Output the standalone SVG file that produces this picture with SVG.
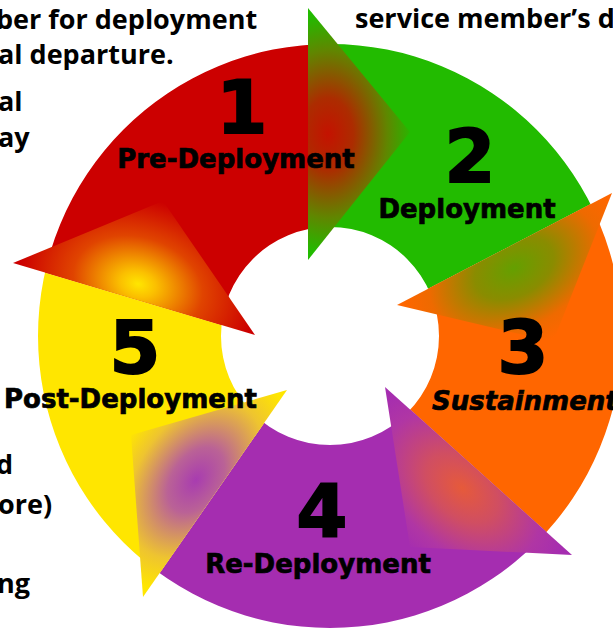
<svg xmlns="http://www.w3.org/2000/svg" width="613" height="629" viewBox="0 0 613 629">
<style>
.num{font-family:"DejaVu Sans",Verdana,sans-serif;font-weight:bold;font-size:73px;fill:#000;stroke:#000;stroke-width:2;text-anchor:middle}
.lbl{font-family:"DejaVu Sans",Verdana,sans-serif;font-weight:bold;font-size:26px;fill:#000;stroke:#000;stroke-width:0.7}
.body{font-family:"Open Sans","Noto Sans",sans-serif;font-weight:bold;font-size:27px;fill:#000}
</style>
<defs>
<clipPath id="ringClip">
<path clip-rule="evenodd" d="M38,336 a292,292 0 1,0 584,0 a292,292 0 1,0 -584,0 Z M221,336 a109,109 0 1,0 218,0 a109,109 0 1,0 -218,0 Z"/>
</clipPath>
<radialGradient id="gRed" gradientUnits="userSpaceOnUse" cx="0" cy="0" r="100" gradientTransform="translate(138,284) rotate(16.6) scale(1.2,0.85)">
<stop offset="0" stop-color="#FFE600"/>
<stop offset="0.15" stop-color="#FBC000"/>
<stop offset="0.55" stop-color="#E04400"/>
<stop offset="1" stop-color="#CC0000"/>
</radialGradient>
<radialGradient id="gGreen" gradientUnits="userSpaceOnUse" cx="0" cy="0" r="100" gradientTransform="translate(328,134) rotate(90) scale(1.2,0.85)">
<stop offset="0" stop-color="#C41200"/>
<stop offset="0.3" stop-color="#AC2C00"/>
<stop offset="0.7" stop-color="#608600"/>
<stop offset="1" stop-color="#22BB00"/>
</radialGradient>
<radialGradient id="gOrange" gradientUnits="userSpaceOnUse" cx="0" cy="0" r="100" gradientTransform="translate(514,268) rotate(-27.5) scale(1.2,0.8)">
<stop offset="0" stop-color="#64A000"/>
<stop offset="0.35" stop-color="#8A8C00"/>
<stop offset="0.75" stop-color="#EE6A00"/>
<stop offset="1" stop-color="#FF6600"/>
</radialGradient>
<radialGradient id="gPurple" gradientUnits="userSpaceOnUse" cx="0" cy="0" r="100" gradientTransform="translate(462,488) rotate(41.9) scale(1.2,0.8)">
<stop offset="0" stop-color="#E65A3A"/>
<stop offset="0.35" stop-color="#D04E62"/>
<stop offset="0.75" stop-color="#B036A4"/>
<stop offset="1" stop-color="#A52DB0"/>
</radialGradient>
<radialGradient id="gYellow" gradientUnits="userSpaceOnUse" cx="0" cy="0" r="100" gradientTransform="translate(196,480) rotate(-55.2) scale(1.2,0.8)">
<stop offset="0" stop-color="#A83CB0"/>
<stop offset="0.3" stop-color="#BA6296"/>
<stop offset="0.72" stop-color="#EEC430"/>
<stop offset="1" stop-color="#FFE600"/>
</radialGradient>
</defs>
<rect width="613" height="629" fill="#fff"/>

<g id="ring" clip-path="url(#ringClip)">
<polygon fill="#CC0000" points="255,335 -229,191 308,-244 308,260"/>
<polygon fill="#22BB00" points="308,260 308,-244 827,81 397,305"/>
<polygon fill="#FF6600" points="397,305 827,81 759,723 385,387"/>
<polygon fill="#A52DB0" points="385,387 759,723 -1,804 287,390"/>
<polygon fill="#FFE600" points="287,390 -1,804 -229,191 255,335"/>
</g>

<g id="connectors">
<polygon fill="url(#gRed)" points="13,263 163,201 255,335"/>
<polygon fill="url(#gGreen)" points="308,8 410,132 308,260"/>
<polygon fill="url(#gOrange)" points="612,193 553,342 397,305"/>
<polygon fill="url(#gPurple)" points="385,387 572,555 410,547"/>
<polygon fill="url(#gYellow)" points="287,390 143,597 131,435"/>
</g>

<g id="node-1">
<text class="num" x="242" y="133">1</text>
<text class="lbl" x="236" y="168" text-anchor="middle">Pre-Deployment</text>
</g>
<g id="node-2">
<text class="num" x="470" y="182">2</text>
<text class="lbl" x="467" y="218" text-anchor="middle">Deployment</text>
</g>
<g id="node-3">
<text class="num" x="523" y="373">3</text>
<text class="lbl" x="432" y="410" font-style="italic">Sustainment</text>
</g>
<g id="node-4">
<text class="num" x="322" y="537">4</text>
<text class="lbl" x="318" y="573" text-anchor="middle">Re-Deployment</text>
</g>
<g id="node-5">
<text class="num" x="135" y="373">5</text>
<text class="lbl" x="4" y="408">Post-Deployment</text>
</g>

<g id="side-text">
<text class="body" x="-4" y="29">ber for deployment</text>
<text class="body" x="-2" y="64">al departure.</text>
<text class="body" x="-2" y="111">al</text>
<text class="body" x="-2" y="147">ay</text>
<text class="body" x="355" y="28">service member’s d</text>
<text class="body" x="-4" y="474">d</text>
<text class="body" x="-2" y="514">ore)</text>
<text class="body" x="-3" y="593">ng</text>
</g>
</svg>
